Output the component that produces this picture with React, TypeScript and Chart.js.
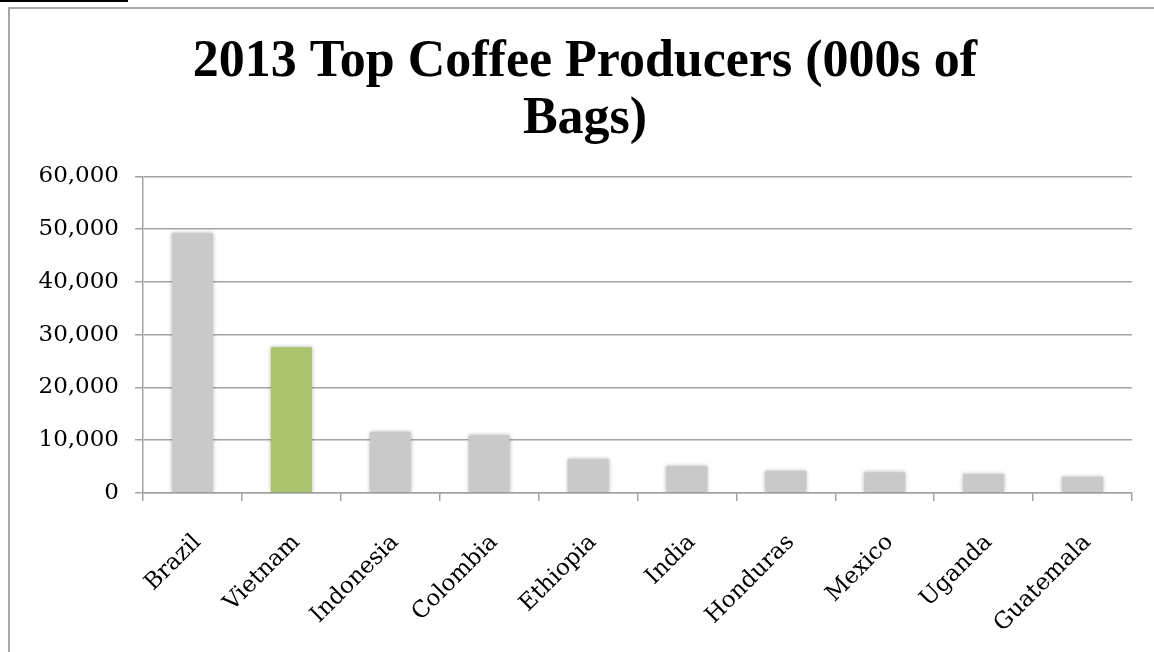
import React, { useEffect, useRef } from "react";
import { Chart, registerables } from "chart.js";

Chart.register(...registerables);

const titleLines = ["2013 Top Coffee Producers (000s of", "Bags)"];
const categories = ["Brazil", "Vietnam", "Indonesia", "Colombia", "Ethiopia", "India", "Honduras", "Mexico", "Uganda", "Guatemala"];
const production = [49200, 27600, 11600, 10900, 6500, 5100, 4200, 3900, 3600, 3100];
const barColors = ["#c9c9c9", "#a9c46c", "#c9c9c9", "#c9c9c9", "#c9c9c9", "#c9c9c9", "#c9c9c9", "#c9c9c9", "#c9c9c9", "#c9c9c9"];
const yMin = 0;
const yMax = 60000;
const yStep = 10000;

const W = 1154;
const H = 652;
const TITLE_FONT = "'Liberation Serif', 'DejaVu Serif', serif";
const TICK_FONT = "'DejaVu Serif', 'Liberation Serif', serif";
const GRID = "#a3a3a3";

const shadowPlugin = {
  id: "barShadow",
  beforeDatasetsDraw(chart: any) {
    const ctx = chart.ctx;
    ctx.save();
    ctx.shadowColor = "rgba(0,0,0,0.30)";
    ctx.shadowBlur = 4;
    ctx.shadowOffsetX = 0;
    ctx.shadowOffsetY = 0;
  },
  afterDatasetsDraw(chart: any) {
    chart.ctx.restore();
  },
};

export default function App() {
  const canvasRef = useRef<HTMLCanvasElement | null>(null);

  useEffect(() => {
    const canvas = canvasRef.current;
    if (!canvas) return;
    const chart = new Chart(canvas, {
      type: "bar",
      data: {
        labels: categories,
        datasets: [
          {
            data: production,
            backgroundColor: barColors,
            borderWidth: 0,
            barPercentage: 0.415,
            categoryPercentage: 1,
          },
        ],
      },
      plugins: [shadowPlugin],
      options: {
        responsive: false,
        animation: false,
        devicePixelRatio: 1,
        layout: { padding: { left: 38, right: 22, top: 0, bottom: 0 } },
        plugins: {
          legend: { display: false },
          tooltip: { enabled: false },
          title: {
            display: true,
            text: titleLines,
            color: "#000",
            font: { family: TITLE_FONT, size: 52, weight: "bold", lineHeight: 1.1 },
            padding: { top: 34, bottom: 28 },
          },
        },
        scales: {
          x: {
            grid: {
              display: true,
              offset: true,
              drawOnChartArea: false,
              drawTicks: true,
              tickLength: 8,
              color: GRID,
              lineWidth: 1.5,
            },
            border: { display: true, color: GRID, width: 1.5 },
            ticks: {
              color: "#000",
              font: { family: TICK_FONT, size: 23 },
              maxRotation: 45,
              minRotation: 45,
              autoSkip: false,
              padding: 28,
              labelOffset: 5,
            },
            afterFit(axis: any) {
              axis.height = H - 493;
            },
          },
          y: {
            min: yMin,
            max: yMax,
            grid: {
              color: GRID,
              lineWidth: 1.5,
              drawTicks: true,
              tickLength: 8,
            },
            border: { display: true, color: GRID, width: 1.5 },
            ticks: {
              stepSize: yStep,
              color: "#000",
              font: { family: TICK_FONT, size: 23 },
              padding: 16,
              callback: (v: any) => Number(v).toLocaleString("en-US"),
            },
            afterFit(axis: any) {
              axis.width = 143 - 38;
            },
          },
        },
      },
    });
    return () => chart.destroy();
  }, []);

  return (
    <div
      style={{
        position: "fixed",
        left: 0,
        top: 0,
        width: W,
        height: H,
        overflow: "hidden",
        background: "#fff",
      }}
    >
      <div style={{ position: "absolute", left: 0, top: 0, width: 128, height: 1.5, background: "#000" }} />
      <div
        style={{
          position: "absolute",
          left: 8,
          top: 7,
          width: 2000,
          height: 2000,
          borderLeft: "2.5px solid #a8a8a8",
          borderTop: "2.5px solid #a8a8a8",
        }}
      />
      <canvas ref={canvasRef} width={W} height={H} style={{ position: "absolute", left: 0, top: 0, width: W, height: H }} />
    </div>
  );
}
